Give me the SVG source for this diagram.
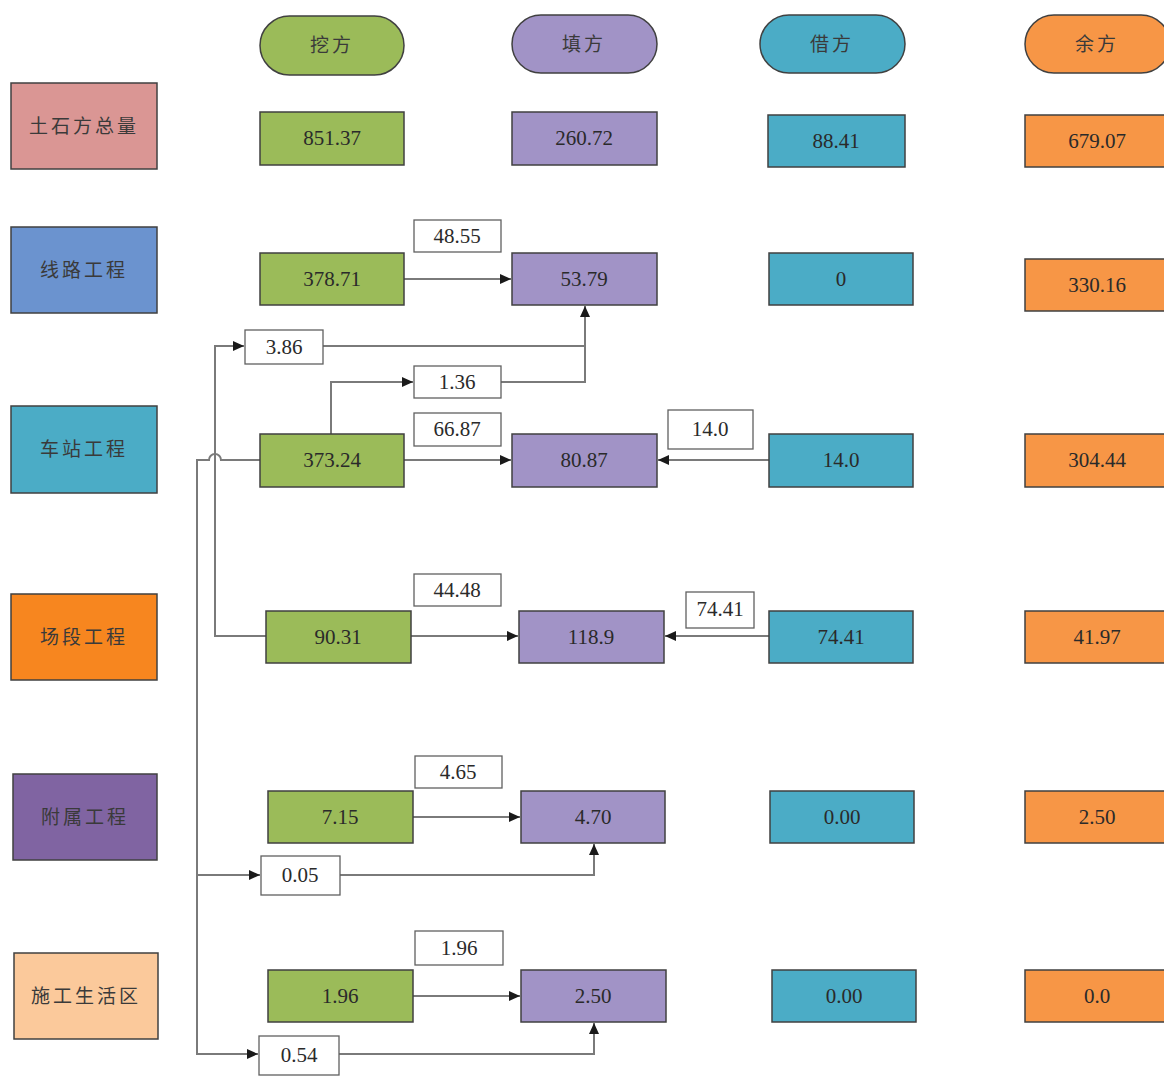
<svg xmlns="http://www.w3.org/2000/svg" width="1164" height="1077" viewBox="0 0 1164 1077">
<defs>
<style>
.b{stroke:#404040;stroke-width:1.5}
.g{fill:#9bbb59}.p{fill:#a193c6}.c{fill:#4bacc6}.o{fill:#f79646}.w{fill:#ffffff;stroke:#606060;stroke-width:1.3}
.t{font-family:"Liberation Serif","Noto Sans CJK SC",serif;font-size:21px;fill:#2a2a2a;text-anchor:middle}
.h{font-family:"Noto Sans CJK SC","Liberation Serif",sans-serif;font-size:19px;fill:#3a3a3a;text-anchor:middle;letter-spacing:3px}
.ln{fill:none;stroke:#7a7a7a;stroke-width:2}
</style>
<marker id="ah" markerWidth="12" markerHeight="12" refX="11" refY="6" orient="auto" markerUnits="userSpaceOnUse">
<path d="M0,1 L11,6 L0,11 Z" fill="#1a1a1a"/>
</marker>
</defs>
<rect width="1164" height="1077" fill="#ffffff"/>

<g id="connectors">
<path class="ln" d="M404,279 H511" marker-end="url(#ah)"/>
<path class="ln" d="M323,346 H585 V306" marker-end="url(#ah)"/>
<path class="ln" d="M501,382 H585 V346"/>
<path class="ln" d="M331,434 V382 H413" marker-end="url(#ah)"/>
<path class="ln" d="M266,636 H215 V346 H244" marker-end="url(#ah)"/>
<path class="ln" d="M260,460 H221 A6,6 0 0 0 209,460 H197 V1054 H258" marker-end="url(#ah)"/>
<path class="ln" d="M197,875 H260" marker-end="url(#ah)"/>
<path class="ln" d="M404,460 H511" marker-end="url(#ah)"/>
<path class="ln" d="M769,460 H658" marker-end="url(#ah)"/>
<path class="ln" d="M411,636 H518" marker-end="url(#ah)"/>
<path class="ln" d="M769,636 H665" marker-end="url(#ah)"/>
<path class="ln" d="M413,817 H520" marker-end="url(#ah)"/>
<path class="ln" d="M340,875 H594 V844" marker-end="url(#ah)"/>
<path class="ln" d="M413,996 H520" marker-end="url(#ah)"/>
<path class="ln" d="M339,1054 H594 V1023" marker-end="url(#ah)"/>
</g>

<g id="hdr-wafang"><rect class="g b" x="260" y="16" width="144" height="59" rx="29.5"/><text class="h" x="332" y="52">挖方</text></g>
<g id="hdr-tianfang"><rect class="p b" x="512" y="15" width="145" height="58" rx="29"/><text class="h" x="584" y="51">填方</text></g>
<g id="hdr-jiefang"><rect class="c b" x="760" y="15" width="145" height="58" rx="29"/><text class="h" x="832" y="51">借方</text></g>
<g id="hdr-yufang"><rect class="o b" x="1025" y="15" width="145" height="58" rx="29"/><text class="h" x="1097" y="51">余方</text></g>

<g id="lbl-total"><rect class="b" fill="#da9694" x="11" y="83" width="146" height="86"/><text class="h" x="84" y="133">土石方总量</text></g>
<g id="lbl-line"><rect class="b" fill="#6b93cf" x="11" y="227" width="146" height="86"/><text class="h" x="84" y="277">线路工程</text></g>
<g id="lbl-station"><rect class="b" fill="#4bacc6" x="11" y="406" width="146" height="87"/><text class="h" x="84" y="456">车站工程</text></g>
<g id="lbl-depot"><rect class="b" fill="#f7861f" x="11" y="594" width="146" height="86"/><text class="h" x="84" y="644">场段工程</text></g>
<g id="lbl-aux"><rect class="b" fill="#8064a2" x="13" y="774" width="144" height="86"/><text class="h" x="85" y="824">附属工程</text></g>
<g id="lbl-camp"><rect class="b" fill="#fbc99b" x="14" y="953" width="144" height="86"/><text class="h" x="86" y="1003">施工生活区</text></g>

<g id="n-total-w"><rect class="g b" x="260" y="112" width="144" height="53"/><text class="t" x="332" y="145">851.37</text></g>
<g id="n-total-t"><rect class="p b" x="512" y="112" width="145" height="53"/><text class="t" x="584" y="145">260.72</text></g>
<g id="n-total-j"><rect class="c b" x="768" y="115" width="137" height="52"/><text class="t" x="836" y="148">88.41</text></g>
<g id="n-total-y"><rect class="o b" x="1025" y="115" width="145" height="52"/><text class="t" x="1097" y="148">679.07</text></g>

<g id="n-line-w"><rect class="g b" x="260" y="253" width="144" height="52"/><text class="t" x="332" y="286">378.71</text></g>
<g id="n-line-t"><rect class="p b" x="512" y="253" width="145" height="52"/><text class="t" x="584" y="286">53.79</text></g>
<g id="n-line-j"><rect class="c b" x="769" y="253" width="144" height="52"/><text class="t" x="841" y="286">0</text></g>
<g id="n-line-y"><rect class="o b" x="1025" y="259" width="145" height="52"/><text class="t" x="1097" y="292">330.16</text></g>
<g id="e-line"><rect class="w" x="414" y="220" width="87" height="32"/><text class="t" x="457" y="243">48.55</text></g>

<g id="e-386"><rect class="w" x="245" y="330" width="78" height="34"/><text class="t" x="284" y="354">3.86</text></g>
<g id="e-136"><rect class="w" x="414" y="366" width="87" height="32"/><text class="t" x="457" y="389">1.36</text></g>

<g id="n-sta-w"><rect class="g b" x="260" y="434" width="144" height="53"/><text class="t" x="332" y="467">373.24</text></g>
<g id="n-sta-t"><rect class="p b" x="512" y="434" width="145" height="53"/><text class="t" x="584" y="467">80.87</text></g>
<g id="n-sta-j"><rect class="c b" x="769" y="434" width="144" height="53"/><text class="t" x="841" y="467">14.0</text></g>
<g id="n-sta-y"><rect class="o b" x="1025" y="434" width="145" height="53"/><text class="t" x="1097" y="467">304.44</text></g>
<g id="e-sta"><rect class="w" x="414" y="413" width="87" height="33"/><text class="t" x="457" y="436">66.87</text></g>
<g id="e-sta-j"><rect class="w" x="668" y="410" width="85" height="39"/><text class="t" x="710" y="436">14.0</text></g>

<g id="n-dep-w"><rect class="g b" x="266" y="611" width="145" height="52"/><text class="t" x="338" y="644">90.31</text></g>
<g id="n-dep-t"><rect class="p b" x="519" y="611" width="145" height="52"/><text class="t" x="591" y="644">118.9</text></g>
<g id="n-dep-j"><rect class="c b" x="769" y="611" width="144" height="52"/><text class="t" x="841" y="644">74.41</text></g>
<g id="n-dep-y"><rect class="o b" x="1025" y="611" width="145" height="52"/><text class="t" x="1097" y="644">41.97</text></g>
<g id="e-dep"><rect class="w" x="414" y="574" width="87" height="32"/><text class="t" x="457" y="597">44.48</text></g>
<g id="e-dep-j"><rect class="w" x="686" y="592" width="68" height="36"/><text class="t" x="720" y="616">74.41</text></g>

<g id="n-aux-w"><rect class="g b" x="268" y="791" width="145" height="52"/><text class="t" x="340" y="824">7.15</text></g>
<g id="n-aux-t"><rect class="p b" x="521" y="791" width="144" height="52"/><text class="t" x="593" y="824">4.70</text></g>
<g id="n-aux-j"><rect class="c b" x="770" y="791" width="144" height="52"/><text class="t" x="842" y="824">0.00</text></g>
<g id="n-aux-y"><rect class="o b" x="1025" y="791" width="145" height="52"/><text class="t" x="1097" y="824">2.50</text></g>
<g id="e-aux"><rect class="w" x="415" y="756" width="87" height="32"/><text class="t" x="458" y="779">4.65</text></g>
<g id="e-005"><rect class="w" x="261" y="856" width="79" height="39"/><text class="t" x="300" y="882">0.05</text></g>

<g id="n-camp-w"><rect class="g b" x="268" y="970" width="145" height="52"/><text class="t" x="340" y="1003">1.96</text></g>
<g id="n-camp-t"><rect class="p b" x="521" y="970" width="145" height="52"/><text class="t" x="593" y="1003">2.50</text></g>
<g id="n-camp-j"><rect class="c b" x="772" y="970" width="144" height="52"/><text class="t" x="844" y="1003">0.00</text></g>
<g id="n-camp-y"><rect class="o b" x="1025" y="970" width="145" height="52"/><text class="t" x="1097" y="1003">0.0</text></g>
<g id="e-camp"><rect class="w" x="415" y="931" width="88" height="34"/><text class="t" x="459" y="955">1.96</text></g>
<g id="e-054"><rect class="w" x="259" y="1036" width="80" height="39"/><text class="t" x="299" y="1062">0.54</text></g>
</svg>
